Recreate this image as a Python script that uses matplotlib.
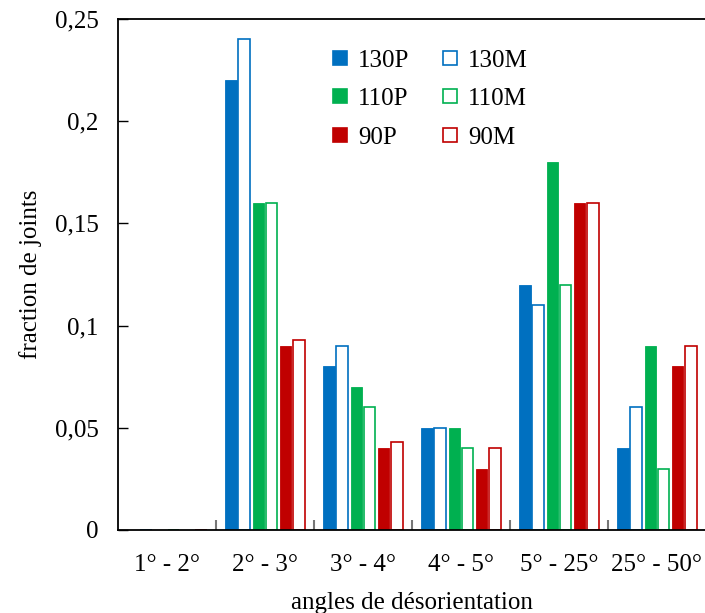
import matplotlib
matplotlib.use("Agg")
import matplotlib.pyplot as plt
import numpy as np
from matplotlib.lines import Line2D

categories = ["1° - 2°", "2° - 3°", "3° - 4°", "4° - 5°", "5° - 25°", "25° - 50°"]
series_names = ["130P", "130M", "110P", "110M", "90P", "90M"]
v_130P = [0, 0.22, 0.08, 0.05, 0.12, 0.04]
v_130M = [0, 0.24, 0.09, 0.05, 0.11, 0.06]
v_110P = [0, 0.16, 0.07, 0.05, 0.18, 0.09]
v_110M = [0, 0.16, 0.06, 0.04, 0.12, 0.03]
v_90P = [0, 0.09, 0.04, 0.03, 0.16, 0.08]
v_90M = [0, 0.093, 0.043, 0.04, 0.16, 0.09]
y_ticks = [0, 0.05, 0.1, 0.15, 0.2, 0.25]
y_tick_labels = ["0", "0,05", "0,1", "0,15", "0,2", "0,25"]

plt.rcParams['font.family'] = ['Liberation Serif', 'DejaVu Serif']

blue, green, red = "#0070C0", "#00B050", "#C00000"
series = [
    (v_130P, blue, True, -0.345),
    (v_130M, blue, False, -0.212),
    (v_110P, green, True, -0.066),
    (v_110M, green, False, 0.066),
    (v_90P, red, True, 0.208),
    (v_90M, red, False, 0.345),
]

fig = plt.figure(figsize=(7.05, 6.13), dpi=100)
ax = fig.add_axes([118/705, 83/613, 588/705, 511/613])
x = np.arange(len(categories))
w = 0.118
for vals, col, filled, off in series:
    if filled:
        ax.bar(x + off, vals, width=w, color=col, edgecolor=col, linewidth=0.6)
    else:
        ax.bar(x + off, vals, width=w, color="white", edgecolor=col, linewidth=1.2)

ax.set_xlim(-0.5, len(categories) - 0.5)
ax.set_ylim(0, 0.25)
ax.set_yticks(y_ticks)
ax.set_yticklabels(y_tick_labels, fontsize=18)
ax.set_xticks(x)
ax.set_xticklabels(categories, fontsize=18)
ax.tick_params(axis='x', which='major', length=0, pad=17)
ax.set_xticks(np.arange(0.5, len(categories) - 0.5, 1), minor=True)
ax.tick_params(axis='x', which='minor', direction='in', length=7, color='#777777', width=1.5)
ax.tick_params(axis='y', direction='in', length=7, width=1, pad=14)
for s in ['left', 'top', 'bottom']:
    ax.spines[s].set_linewidth(1.3)
ax.spines['right'].set_visible(False)

ax.set_ylabel("fraction de joints", fontsize=18, labelpad=9)
ax.set_xlabel("angles de désorientation", fontsize=18, labelpad=12)

handles = []
for (vals, col, filled, off), name in zip(series, series_names):
    handles.append(Line2D([], [], linestyle='none', marker='s', markersize=10,
                          markerfacecolor=col if filled else 'white',
                          markeredgecolor=col, markeredgewidth=1.2, label=name))
order = [0, 2, 4, 1, 3, 5]
ax.legend([handles[i] for i in order], [series_names[i] for i in order], ncol=2,
          frameon=False, fontsize=18, loc='upper left', bbox_to_anchor=(0.325, 0.985),
          handlelength=0.7, handletextpad=0.35, columnspacing=1.3, labelspacing=0.64)

fig.savefig("out.png", dpi=100)
